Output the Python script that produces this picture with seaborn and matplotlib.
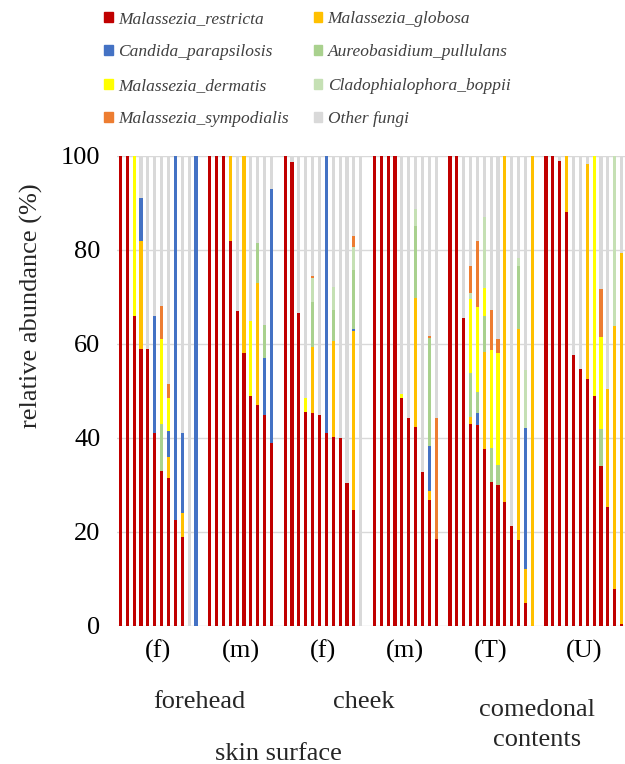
import matplotlib
matplotlib.use('Agg')
import matplotlib.pyplot as plt
import matplotlib.transforms as mtransforms
from matplotlib.patches import Patch
import pandas as pd
import seaborn as sns

species = ['Malassezia_restricta', 'Malassezia_globosa', 'Candida_parapsilosis',
           'Aureobasidium_pullulans', 'Malassezia_dermatis', 'Cladophialophora_boppii',
           'Malassezia_sympodialis', 'Other fungi']
colors = ['#C00000', '#FFC000', '#4472C4', '#A9D18E', '#FFFF00', '#C5E0B4', '#ED7D31', '#D9D9D9']

group_sizes = [12, 10, 12, 10, 13, 12]
group_ticks = ['(f)', '(m)', '(f)', '(m)', '(T)', '(U)']

# relative abundance (%) per sample, groups in order: forehead f/m, cheek f/m, comedonal T/U
restricta = [100, 100, 66, 59, 59, 41, 33, 31.5, 22.5, 19, 0, 0,
             100, 100, 100, 82, 67, 58, 49, 47, 45, 39,
             100, 98.7, 66.5, 45.5, 45.3, 45, 41, 40.2, 40, 30.5, 24.7, 0,
             100, 100, 100, 100, 48.6, 44.3, 42.4, 32.8, 26.8, 18.5,
             100, 100, 65.6, 42.9, 42.7, 37.7, 30.7, 30, 26.4, 21.3, 18.3, 4.8, 0,
             100, 100, 99, 88, 57.7, 54.7, 52.6, 48.9, 34, 25.4, 7.8, 0.5]
globosa = [0, 0, 0, 23, 0, 0, 0, 4.5, 0, 5, 0, 0,
           0, 0, 0, 18, 0, 42, 0, 26, 0, 0,
           0, 0, 0, 0, 14, 0, 0, 20.5, 0, 0, 38, 0,
           0, 0, 0, 0, 0, 0, 27.3, 0, 1.9, 0,
           0, 0, 0, 1.6, 0, 20.5, 0, 0, 73.6, 0, 44.8, 7.3, 100,
           0, 0, 0, 12, 0, 0, 45.6, 0, 0, 25, 56, 78.8]
candida = [0, 0, 0, 9, 0, 25, 0, 5.5, 77.5, 17, 0, 100,
           0, 0, 0, 0, 0, 0, 0, 0, 12, 54,
           0, 0, 0, 0, 0, 0, 59, 0, 0, 0, 0.5, 0,
           0, 0, 0, 0, 0, 0, 0, 0, 9.7, 0,
           0, 0, 0, 0, 2.7, 0, 0, 0, 0, 0, 0, 30.1, 0,
           0, 0, 0, 0, 0, 0, 0, 0, 0, 0, 0, 0]
aureobasidium = [0, 0, 0, 0, 0, 0, 10, 0, 0, 0, 0, 0,
                 0, 0, 0, 0, 0, 0, 0, 8.5, 7, 0,
                 0, 0, 0, 0, 9.7, 0, 0, 6.5, 0, 0, 12.5, 0,
                 0, 0, 0, 0, 0, 0, 15.4, 0, 22.8, 0,
                 0, 0, 0, 9.4, 4.3, 7.8, 7.2, 4.3, 0, 0, 13.4, 0, 0,
                 0, 0, 0, 0, 0, 0, 0, 0, 8, 0, 0, 0]
dermatis = [0, 0, 34, 0, 0, 0, 18, 7, 0, 0, 0, 0,
            0, 0, 0, 0, 0, 0, 16, 0, 0, 0,
            0, 0, 0, 3, 0, 0, 0, 0, 0, 0, 0, 0,
            0, 0, 0, 0, 0.8, 0, 0, 0, 0, 0,
            0, 0, 0, 15.7, 18.1, 6, 20.8, 23.7, 0, 0, 0, 0, 0,
            0, 0, 0, 0, 0, 0, 0, 51.1, 19.4, 0, 0, 0]
cladophialophora = [0, 0, 0, 0, 0, 0, 0, 0, 0, 0, 0, 0,
                    0, 0, 0, 0, 0, 0, 0, 0, 0, 0,
                    0, 0, 0, 0, 5, 0, 0, 5, 0, 0, 5, 0,
                    0, 0, 0, 0, 0, 0, 3.6, 0, 0, 0,
                    0, 0, 0, 1.2, 0, 15.1, 0, 0, 0, 0, 1.9, 12.3, 0,
                    0, 0, 0, 0, 0, 0, 0, 0, 0, 0, 36.2, 0]
sympodialis = [0, 0, 0, 0, 0, 0, 7, 3, 0, 0, 0, 0,
               0, 0, 0, 0, 0, 0, 0, 0, 0, 0,
               0, 0, 0, 0, 0.5, 0, 0, 0, 0, 0, 2.3, 0,
               0, 0, 0, 0, 0, 0, 0, 0, 0.6, 25.8,
               0, 0, 0, 5.9, 14.2, 0, 8.5, 3, 0, 0, 0, 0, 0,
               0, 0, 0, 0, 0, 0, 0, 0, 10.2, 0, 0, 0]
other = [0, 0, 0, 9, 41, 34, 32, 48.5, 0, 59, 100, 0,
         0, 0, 0, 0, 33, 0, 35, 18.5, 36, 7,
         0, 1.3, 33.5, 51.5, 25.5, 55, 0, 27.8, 60, 69.5, 17, 100,
         0, 0, 0, 0, 50.6, 55.7, 11.3, 67.2, 38.2, 55.7,
         0, 0, 34.4, 23.3, 18, 12.9, 32.8, 39, 0, 78.7, 21.6, 45.5, 0,
         0, 0, 1, 0, 42.3, 45.3, 1.8, 0, 28.4, 49.6, 0, 20.7]

series = [restricta, globosa, candida, aureobasidium, dermatis,
          cladophialophora, sympodialis, other]

# bar slots, one empty slot between groups
pos, centers, start = [], [], 0
for n in group_sizes:
    pos += list(range(start, start + n))
    centers.append(start + (n - 1) / 2)
    start += n + 1

wide = pd.DataFrame(dict(zip(species, series)))
cum = wide[species].cumsum(axis=1)
cum['pos'] = pos
long = cum.melt(id_vars='pos', var_name='species', value_name='top')

sns.set_theme(style='white')
plt.rcParams['font.family'] = ['Liberation Serif', 'DejaVu Serif']

fig = plt.figure(figsize=(6.25, 7.64), dpi=100)
ax = fig.add_axes([117 / 625, 138 / 764, 508 / 625, 470 / 764])

# draw cumulative tops from the top layer down so each layer covers the next
for sp, col in reversed(list(zip(species, colors))):
    sns.barplot(data=long[long['species'] == sp], x='pos', y='top', native_scale=True,
                color=col, saturation=1, width=0.46, errorbar=None, linewidth=0, ax=ax)

ax.set_xlim(-0.5, 73.5)
ax.set_ylim(0, 100)
ax.set_yticks(range(0, 101, 20))
ax.yaxis.grid(True, color='#D9D9D9', lw=1)
ax.set_axisbelow(True)
for s in ax.spines.values():
    s.set_visible(False)
ax.set_xticks(centers, group_ticks)
ax.tick_params(axis='both', length=0, labelsize=19, colors='black')
ax.tick_params(axis='y', pad=12)
ax.tick_params(axis='x', pad=10)
ax.set_xlabel('')
ax.set_ylabel('')

fig.text(0.05, 0.60, 'relative abundance (%)', rotation=90, ha='center', va='center', size=19)

trans = mtransforms.blended_transform_factory(ax.transData, fig.transFigure)
ax.text((centers[0] + centers[1]) / 2, 0.081, 'forehead', transform=trans,
        ha='center', va='center', size=19)
ax.text((centers[2] + centers[3]) / 2, 0.081, 'cheek', transform=trans,
        ha='center', va='center', size=19)
ax.text((centers[4] + centers[5]) / 2, 0.051, 'comedonal\ncontents', transform=trans,
        ha='center', va='center', size=19, linespacing=1.45)
ax.text((pos[0] + pos[sum(group_sizes[:4]) - 1]) / 2, 0.013, 'skin surface', transform=trans,
        ha='center', va='center', size=19)

handles = [Patch(color=c) for c in colors]
order = [0, 2, 4, 6, 1, 3, 5, 7]
leg = fig.legend([handles[i] for i in order], [species[i] for i in order], ncol=2,
                 loc='upper left', bbox_to_anchor=(104 / 625, 1 - 11 / 764),
                 frameon=False, borderpad=0, borderaxespad=0,
                 handlelength=0.5, handleheight=0.5, handletextpad=0.3,
                 columnspacing=1.45, labelspacing=1.0,
                 prop={'family': 'Liberation Serif', 'style': 'italic', 'size': 12.5})
for t in leg.get_texts():
    t.set_color('#404040')

fig.savefig('out.png', dpi=100)
